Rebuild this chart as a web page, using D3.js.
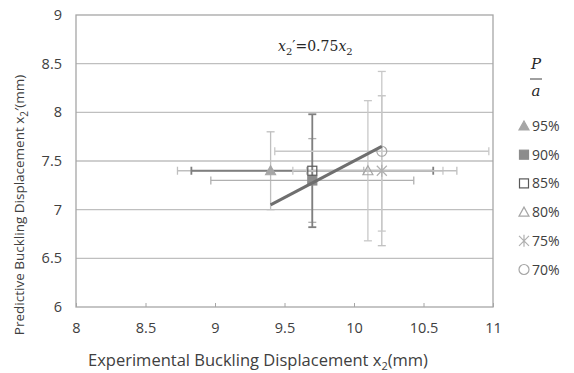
<!DOCTYPE html>
<html>
<head>
<meta charset="utf-8">
<script src="https://cdn.jsdelivr.net/npm/d3@7"></script>
<style>
  body { margin: 0; background: #fff; }
  text { font-family: "Open Sans", "Liberation Sans", sans-serif; fill: #404040; }
</style>
</head>
<body>
<svg id="chart" width="574" height="373"></svg>
<script>
// series, in drawing order
const labels = ['95%', '90%', '85%', '80%', '75%', '70%'];
const xVals = [9.4, 9.7, 9.7, 10.1, 10.2, 10.2];
const yVals = [7.4, 7.3, 7.4, 7.4, 7.4, 7.6];
const xErr = [0.67, 0.73, 0.87, 0.54, 0.54, 0.77];
const yErr = [0.4, 0.43, 0.58, 0.72, 0.77, 0.82];
const shapes = ['triFill', 'sqFill', 'sqOpen', 'triOpen', 'star', 'circle'];
const colors = ['#a6a6a6', '#8c8c8c', '#595959', '#a6a6a6', '#b0b0b0', '#a6a6a6'];
const errColors = ['#bfbfbf', '#b0b0b0', '#7f7f7f', '#c8c8c8', '#c0c0c0', '#c8c8c8'];

const xTicks = [8, 8.5, 9, 9.5, 10, 10.5, 11];
const yTicks = [6, 6.5, 7, 7.5, 8, 8.5, 9];
const fitX = [9.4, 10.2];
const fitSlope = 0.75;

const svg = d3.select('#chart');
const x = d3.scaleLinear().domain([8, 11]).range([76, 493]);
const y = d3.scaleLinear().domain([6, 9]).range([307, 15]);

// gridlines
svg.append('g').selectAll('line')
    .data(yTicks.slice(1, -1))
    .enter().append('line')
    .attr('x1', x(8)).attr('x2', x(11))
    .attr('y1', d => y(d)).attr('y2', d => y(d))
    .attr('stroke', '#bfbfbf').attr('stroke-width', 1.3);

// plot frame
svg.append('rect')
    .attr('x', x(8)).attr('y', y(9))
    .attr('width', x(11) - x(8)).attr('height', y(6) - y(9))
    .attr('fill', 'none').attr('stroke', '#a6a6a6').attr('stroke-width', 1.3);

// axes
const xAxis = svg.append('g').attr('transform', `translate(0,${y(6)})`)
    .call(d3.axisBottom(x).tickValues(xTicks).tickSize(-4).tickPadding(16).tickFormat(d3.format('')));
xAxis.select('.domain').remove();
xAxis.selectAll('line').attr('stroke', '#a6a6a6');
xAxis.selectAll('text').attr('font-size', 14.5).style('fill', '#404040')
    .style('font-family', '"Open Sans", sans-serif');

const yAxis = svg.append('g').attr('transform', `translate(${x(8)},0)`)
    .call(d3.axisLeft(y).tickValues(yTicks).tickSize(0).tickPadding(14).tickFormat(d3.format('')));
yAxis.select('.domain').remove();
yAxis.selectAll('text').attr('font-size', 14.5).style('fill', '#404040')
    .style('font-family', '"Open Sans", sans-serif');

// error bars
const cap = 4;
labels.forEach((l, i) => {
    const g = svg.append('g').attr('stroke', errColors[i]).attr('stroke-width', i == 2 ? 1.8 : 1.3);
    const cx = xVals[i], cy = yVals[i];
    g.append('line').attr('x1', x(cx - xErr[i])).attr('x2', x(cx + xErr[i]))
        .attr('y1', y(cy)).attr('y2', y(cy));
    g.append('line').attr('x1', x(cx)).attr('x2', x(cx))
        .attr('y1', y(cy - yErr[i])).attr('y2', y(cy + yErr[i]));
    [cx - xErr[i], cx + xErr[i]].forEach(v => g.append('line')
        .attr('x1', x(v)).attr('x2', x(v)).attr('y1', y(cy) - cap).attr('y2', y(cy) + cap));
    [cy - yErr[i], cy + yErr[i]].forEach(v => g.append('line')
        .attr('y1', y(v)).attr('y2', y(v)).attr('x1', x(cx) - cap).attr('x2', x(cx) + cap));
});

function drawMarker(g, shape, color, px, py) {
    if (shape == 'triFill' || shape == 'triOpen') {
        g.append('path').attr('d', `M${px},${py - 5}L${px + 5},${py + 4}L${px - 5},${py + 4}Z`)
            .attr('fill', shape == 'triFill' ? color : 'none')
            .attr('stroke', color).attr('stroke-width', 1.2);
    } else if (shape == 'sqFill' || shape == 'sqOpen') {
        g.append('rect').attr('x', px - 4.5).attr('y', py - 4.5).attr('width', 9).attr('height', 9)
            .attr('fill', shape == 'sqFill' ? color : 'none')
            .attr('stroke', color).attr('stroke-width', 1.2);
    } else if (shape == 'star') {
        const r = 5;
        g.append('path')
            .attr('d', `M${px - r},${py - r}L${px + r},${py + r}M${px - r},${py + r}L${px + r},${py - r}M${px},${py - r - 1}L${px},${py + r + 1}`)
            .attr('stroke', color).attr('stroke-width', 1.2);
    } else {
        g.append('circle').attr('cx', px).attr('cy', py).attr('r', 5)
            .attr('fill', 'none').attr('stroke', color).attr('stroke-width', 1.2);
    }
}

// markers
const marks = svg.append('g');
labels.forEach((l, i) => drawMarker(marks, shapes[i], colors[i], x(xVals[i]), y(yVals[i])));

// fit line
svg.append('line')
    .attr('x1', x(fitX[0])).attr('y1', y(fitX[0] * fitSlope))
    .attr('x2', x(fitX[1])).attr('y2', y(fitX[1] * fitSlope))
    .attr('stroke', '#6f6f6f').attr('stroke-width', 3);

// equation
const eq = svg.append('text').attr('x', 278).attr('y', 51)
    .style('font-family', '"DejaVu Serif", "Liberation Serif", serif').attr('font-size', 14).style('fill', '#262626');
eq.append('tspan').attr('font-style', 'italic').text('x');
eq.append('tspan').attr('font-size', 10).attr('dy', 4).text('2');
eq.append('tspan').attr('dy', -4).text('\u2032=0.75');
eq.append('tspan').attr('font-style', 'italic').text('x');
eq.append('tspan').attr('font-size', 10).attr('dy', 4).text('2');

// axis titles
const xt = svg.append('text').attr('x', 258).attr('y', 366).attr('text-anchor', 'middle').attr('font-size', 16.5);
xt.append('tspan').text('Experimental Buckling Displacement x');
xt.append('tspan').attr('font-size', 11).attr('dy', 4).text('2');
xt.append('tspan').attr('dy', -4).text('(mm)');

const yt = svg.append('text').attr('transform', 'translate(24,205) rotate(-90)')
    .attr('text-anchor', 'middle').attr('font-size', 13.5);
yt.append('tspan').text('Predictive Buckling Displacement x');
yt.append('tspan').attr('font-size', 10).attr('dy', 4).text('2');
yt.append('tspan').attr('dy', -4).text('\u2032(mm)');

// legend
const lg = svg.append('g');
lg.append('text').attr('x', 536).attr('y', 69).attr('text-anchor', 'middle').attr('font-size', 15)
    .attr('font-style', 'italic').style('font-family', '"DejaVu Serif", serif').style('fill', '#262626').text('P');
lg.append('line').attr('x1', 530).attr('x2', 542).attr('y1', 79).attr('y2', 79)
    .attr('stroke', '#404040').attr('stroke-width', 1);
lg.append('text').attr('x', 536).attr('y', 96).attr('text-anchor', 'middle').attr('font-size', 15)
    .attr('font-style', 'italic').style('font-family', '"DejaVu Serif", serif').style('fill', '#262626').text('a');
labels.forEach((l, i) => {
    const ly = 126 + i * 28.7;
    drawMarker(lg, shapes[i], colors[i], 524, ly);
    lg.append('text').attr('x', 532).attr('y', ly + 5).attr('font-size', 14).text(l);
});
</script>
</body>
</html>
